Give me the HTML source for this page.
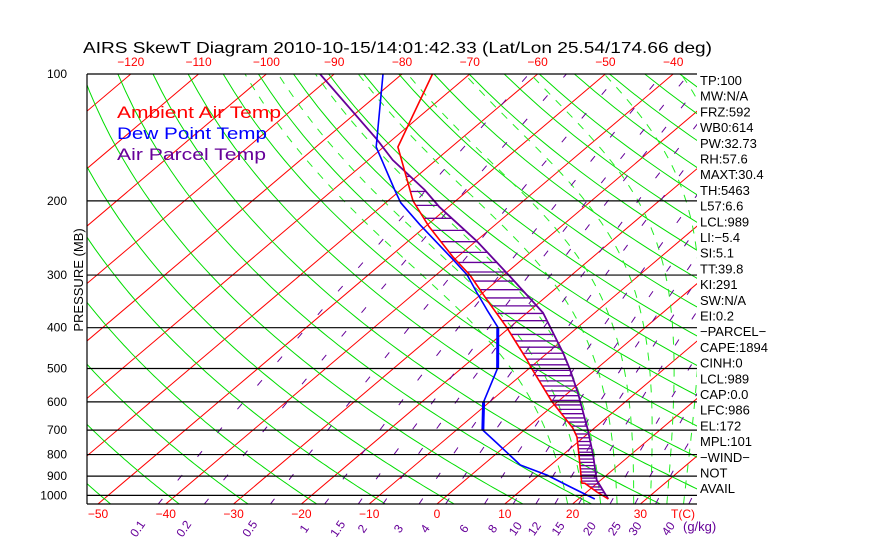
<!DOCTYPE html>
<html><head><meta charset="utf-8">
<style>
html,body{margin:0;padding:0;background:#fff;}
svg{display:block;font-family:"Liberation Sans",sans-serif;}
</style></head>
<body>
<svg id="chart" width="870" height="560" viewBox="0 0 870 560">
<defs><clipPath id="plotclip"><rect x="87" y="74" width="610" height="430"/></clipPath></defs>
<text x="83" y="53" font-size="16" textLength="629" lengthAdjust="spacingAndGlyphs" fill="#000">AIRS SkewT Diagram 2010-10-15/14:01:42.33 (Lat/Lon 25.54/174.66 deg)</text>
<g id="bg" clip-path="url(#plotclip)"></g>
<g id="hatch" clip-path="url(#plotclip)"></g>
<g id="profiles" clip-path="url(#plotclip)"></g>
<g id="axes"></g>
<g id="labels"></g>
<text x="117" y="118" font-size="17" fill="#ff0000" textLength="164" lengthAdjust="spacingAndGlyphs">Ambient Air Temp</text>
<text x="117" y="139" font-size="17" fill="#0000ff" textLength="150" lengthAdjust="spacingAndGlyphs">Dew Point Temp</text>
<text x="117" y="160" font-size="17" fill="#660099" textLength="149" lengthAdjust="spacingAndGlyphs">Air Parcel Temp</text>
<text transform="translate(83,280) rotate(-90)" font-size="13" text-anchor="middle" fill="#000">PRESSURE (MB)</text>
</svg>
<script>
// ---- data ----
const ambientP = [100,149,200,230,272,300,344,399,477,499,600,692,727,847,935,936,982,1020];
const ambientT = [-75.5,-67.9,-56.3,-49.5,-40.6,-35.0,-28.1,-20.5,-11.8,-9.7,-0.8,6.8,9.0,14.3,17.7,18.2,21.5,24.4];
const dewP = [100,149,188,202,228,276,300,331,363,399,499,600,700,751,847,895,955,1020];
const dewT = [-82.8,-71.1,-61.0,-57.8,-51.1,-40.1,-35.4,-30.8,-26.4,-21.8,-14.7,-10.9,-6.1,-1.8,5.5,11.2,16.7,22.4];
const parcelP = [100,143,160,188,207,250,303,369,459,499,572,700,802,920,1020];
const parcelT = [-92.1,-72.3,-66.4,-56.6,-51.3,-39.7,-28.7,-17.6,-7.7,-4.1,1.5,9.4,14.5,19.4,24.4];
const pressureTicks = [100,200,300,400,500,600,700,800,900,1000];
const topTempTicks = [-120,-110,-100,-90,-80,-70,-60,-50,-40];
const bottomTempTicks = [-50,-40,-30,-20,-10,0,10,20,30];
const mixingRatios = [0.1,0.2,0.5,1,1.5,2,3,4,6,8,10,12,15,20,25,30,40];
const mixingLabels = ["0.1","0.2","0.5","1","1.5","2","3","4","6","8","10","12","15","20","25","30","40"];
const statLabels = ["TP:100","MW:N/A","FRZ:592","WB0:614","PW:32.73","RH:57.6","MAXT:30.4","TH:5463","L57:6.6","LCL:989","LI:-5.4","SI:5.1","TT:39.8","KI:291","SW:N/A","EI:0.2","-PARCEL-","CAPE:1894","CINH:0","LCL:989","CAP:0.0","LFC:986","EL:172","MPL:101","-WIND-","NOT","AVAIL"];

// ---- axes ----
const X0=87, X1=697, YT=74, YB=504, K=183, PX=6.78, SK=1.18;
function yP(p){return YT + K*Math.log(p/100);}
function xTY(T,y){return 437 + PX*T + SK*(YB-y);}
function xTP(T,p){return xTY(T,yP(p));}
const NS="http://www.w3.org/2000/svg";
function mk(tag,parent,attrs){const e=document.createElementNS(NS,tag);for(const k in attrs)e.setAttribute(k,attrs[k]);parent.appendChild(e);return e;}
function pathFrom(pts){return pts.map((q,i)=>(i?'L':'M')+q[0].toFixed(1)+' '+q[1].toFixed(1)).join('');}
const bg=document.getElementById('bg'), axes=document.getElementById('axes'), labels=document.getElementById('labels');
const hatch=document.getElementById('hatch'), prof=document.getElementById('profiles');
const PB=1050;

// isotherms
for(let T=-180;T<=40;T+=10){
  const l=mk('line',bg,{x1:xTP(T,PB),y1:yP(PB),x2:xTP(T,100),y2:yP(100),stroke:'#ff0000','stroke-width':1});
  
  
}
// dry adiabats
for(let th=192;th<=502;th+=10){
  const pts=[];
  for(let p=PB;p>=100;p-=10){pts.push([xTP(th*Math.pow(p/1000,0.2857)-273.15,p),yP(p)]);}
  const e=mk('path',bg,{d:pathFrom(pts),fill:'none',stroke:'#00dd00','stroke-width':1});
  
  
}
// moist adiabats
function es(T){return 6.112*Math.exp(17.67*T/(T+243.5));}
function dTdp(T,p){const Tk=T+273.15;const rs=0.622*es(T)/(p-es(T));const Lv=2.5e6,Rd=287,cp=1004;
  return (Rd*Tk+Lv*rs)/(p*(cp+Lv*Lv*rs*0.622/(Rd*Tk*Tk)));}
for(let T0=17.5;T0<=40;T0+=2.5){
  const up=[];let T=T0;
  for(let p=1000;p>=100;p-=5){up.push([xTP(T,p),yP(p)]);T-=dTdp(T,p)*5;}
  const dn=[];T=T0;
  for(let p=1000;p<=PB;p+=5){dn.push([xTP(T,p),yP(p)]);T+=dTdp(T,p)*5;}
  const pts=dn.reverse().concat(up);
  const e=mk('path',bg,{d:pathFrom(pts),fill:'none',stroke:'#22ee22','stroke-width':1,'stroke-dasharray':'8 8'});
  
  
}
// mixing ratio lines
function tFromE(e){const l=Math.log(e/6.112);return 243.5*l/(17.67-l);}
mixingRatios.forEach((w,i)=>{
  const pts=[];
  for(let p=PB;p>=100;p-=10){const e=w*p/(622+w);pts.push([xTP(tFromE(e),p),yP(p)]);}
  const el=mk('path',bg,{d:pathFrom(pts),fill:'none',stroke:'#660099','stroke-width':1,'stroke-dasharray':'7 24'});
  
  
  const xl=xTP(tFromE(w*PB/(622+w)),PB)-17;
  const t=mk('text',labels,{transform:`translate(${xl.toFixed(1)},531) rotate(-55)`,'font-size':12,fill:'#660099','text-anchor':'middle'});
  t.textContent=mixingLabels[i];
  
  
});
{const t=mk('text',labels,{x:683,y:531,'font-size':13,fill:'#660099'});t.textContent='(g/kg)';
 
 }

// pressure lines and labels
pressureTicks.forEach(p=>{
  const y=yP(p);
  const l=mk('line',axes,{x1:X0,y1:y,x2:X1,y2:y,stroke:'#000','stroke-width':1.2});
  
  
  const t=mk('text',labels,{x:67,y:y+4,'font-size':12,'text-anchor':'end',fill:'#000'});
  t.textContent=p;
  
  
});
{const l=mk('line',axes,{x1:X0,y1:YB,x2:X1,y2:YB,stroke:'#000','stroke-width':1.2});
 
 
 const v=mk('line',axes,{x1:X0,y1:YT,x2:X0,y2:YB,stroke:'#000','stroke-width':1.2});
 
 }
topTempTicks.forEach(T=>{
  const t=mk('text',labels,{x:xTY(T,YT),y:66,'font-size':12,'text-anchor':'middle',fill:'#ff0000'});
  t.textContent=T<0?'\u2212'+(-T):T;
  
  
});
bottomTempTicks.forEach(T=>{
  const t=mk('text',labels,{x:xTY(T,YB),y:518,'font-size':12,'text-anchor':'middle',fill:'#ff0000'});
  t.textContent=T<0?'\u2212'+(-T):T;
  
  
});
{const t=mk('text',labels,{x:683,y:518,'font-size':12,'text-anchor':'middle',fill:'#ff0000'});t.textContent='T(C)';
 
 }
statLabels.forEach((s,i)=>{
  const t=mk('text',labels,{x:700,y:85+i*15.7,'font-size':13,fill:'#000'});
  t.textContent=s.replace(/-/g,'\u2212');
  
  
});

// profiles
function interp(P,T,p){
  for(let i=0;i<P.length-1;i++){if(p>=P[i]&&p<=P[i+1]){const f=(Math.log(p)-Math.log(P[i]))/(Math.log(P[i+1])-Math.log(P[i]));return T[i]+f*(T[i+1]-T[i]);}}
  return null;
}
for(let p=1015;p>=175;p-=15){
  const ta=interp(ambientP,ambientT,p), tp=interp(parcelP,parcelT,p);
  if(ta===null||tp===null||tp<=ta) continue;
  const l=mk('line',hatch,{x1:xTP(ta,p),y1:yP(p),x2:xTP(tp,p),y2:yP(p),stroke:'#660099','stroke-width':1.3});
  
  
}
function prof1(P,T,color,name,w){
  const pts=P.map((p,i)=>[xTP(T[i],p),yP(p)]);
  const e=mk('path',prof,{d:pathFrom(pts),fill:'none',stroke:color,'stroke-width':w,'stroke-linejoin':'round'});
  
  
}
prof1(parcelP,parcelT,'#660099','air-parcel-temp-line',1.8);
prof1(dewP,dewT,'#0000ff','dew-point-temp-line',1.6);
// thicker near-vertical dew point segments
[[9,10],[11,12]].forEach(([a,b])=>{
  const l=mk('line',prof,{x1:xTP(dewT[a],dewP[a]),y1:yP(dewP[a]),x2:xTP(dewT[b],dewP[b]),y2:yP(dewP[b]),stroke:'#0000ff','stroke-width':3});
  
  
});
prof1(ambientP,ambientT,'#ff0000','ambient-air-temp-line',1.6);
</script>
</body></html>
